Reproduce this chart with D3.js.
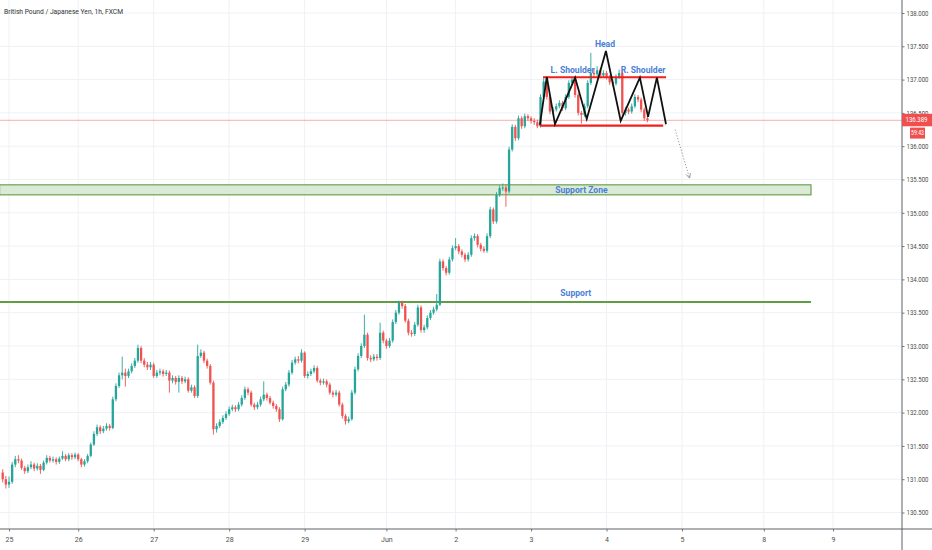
<!DOCTYPE html>
<html><head><meta charset="utf-8">
<script src="https://cdn.jsdelivr.net/npm/d3@7/dist/d3.min.js"></script>
<style>
html,body{margin:0;padding:0;background:#fff;overflow:hidden;}
svg{display:block;}
</style></head><body>
<svg id="chart" width="932" height="550"></svg>
<script>
// ---------- data ----------
const title = "British Pound / Japanese Yen, 1h, FXCM";
const dayLabels = ["25","26","27","28","29","Jun","2","3","4","5","8","9"];
const daySlots  = [0,22,46,70,94,120,142,166,190,214,240,262];
const priceTicks = [130.5,131,131.5,132,132.5,133,133.5,134,134.5,135,135.5,136,136.5,137,137.5,138];
const firstSlot = -2;
const opens = [
131.10,131.00,130.92,130.96,131.22,131.30,131.28,131.17,131.12,131.18,
131.22,131.16,131.20,131.14,131.25,131.32,131.28,131.30,131.26,131.31,
131.35,131.30,131.36,131.33,131.37,131.30,131.22,131.27,131.35,131.52,
131.68,131.78,131.72,131.76,131.80,131.77,132.20,132.40,132.56,132.60,
132.55,132.62,132.70,132.78,132.97,132.78,132.72,132.68,132.72,132.55,
132.60,132.62,132.58,132.60,132.48,132.52,132.46,132.52,132.47,132.50,
132.33,132.38,132.25,132.85,132.90,132.78,132.70,132.45,131.75,131.80,
131.86,131.92,131.98,132.05,132.08,132.05,132.12,132.22,132.35,132.30,
132.12,132.08,132.12,132.20,132.27,132.22,132.15,132.10,132.05,131.90,
132.35,132.42,132.60,132.75,132.80,132.78,132.90,132.55,132.58,132.62,
132.67,132.48,132.45,132.47,132.42,132.30,132.27,132.30,132.12,131.95,
131.87,131.90,132.30,132.65,132.85,133.00,133.17,132.82,132.80,132.84,
132.82,133.20,133.08,133.00,133.08,133.36,133.50,133.65,133.60,133.38,
133.20,133.18,133.32,133.58,133.24,133.28,133.42,133.50,133.55,133.62,
134.27,134.17,134.10,134.30,134.47,134.50,134.42,134.37,134.30,134.37,
134.62,134.65,134.52,134.46,134.43,134.65,135.05,134.87,135.27,135.37,
135.38,135.32,135.95,136.29,136.12,136.42,136.30,136.45,136.42,136.38,
136.36,136.30,136.74,136.97,136.74,136.52,136.55,136.60,136.65,136.57,
136.74,136.95,137.00,136.77,136.50,136.47,136.60,136.95,137.10,137.08,
137.14,137.06,137.10,137.04,136.96,136.94,137.04,137.10,136.50,136.55,
136.52,136.60,136.74,136.70,136.55,136.42];
const highs = [
131.15,131.05,131.04,131.26,131.35,131.36,131.31,131.20,131.22,131.27,
131.25,131.24,131.23,131.28,131.36,131.35,131.34,131.33,131.34,131.42,
131.38,131.39,131.39,131.40,131.39,131.32,131.30,131.38,131.55,131.72,
131.82,131.81,131.80,131.84,131.83,132.24,132.44,132.60,132.84,132.66,
132.66,132.74,132.82,133.02,133.00,132.82,132.76,132.76,132.75,132.64,
132.66,132.65,132.64,132.63,132.56,132.55,132.56,132.55,132.54,132.53,
132.42,132.41,133.02,132.95,132.93,132.81,132.73,132.48,131.84,131.90,
131.96,132.02,132.09,132.12,132.11,132.16,132.26,132.39,132.38,132.33,
132.15,132.16,132.24,132.47,132.30,132.25,132.18,132.13,132.08,132.39,
132.46,132.64,132.79,132.84,132.85,132.95,132.92,132.62,132.66,132.71,
132.70,132.51,132.51,132.50,132.45,132.33,132.34,132.33,132.15,131.98,
131.94,132.34,132.69,132.89,133.04,133.47,133.20,132.86,132.88,132.88,
133.35,133.23,133.11,133.12,133.40,133.54,133.68,133.68,133.63,133.41,
133.24,133.36,133.62,133.61,133.32,133.46,133.54,133.59,133.78,134.31,
134.30,134.20,134.34,134.51,134.62,134.53,134.45,134.40,134.41,134.66,
134.69,134.68,134.55,134.50,134.69,135.09,135.08,135.31,135.41,135.44,
135.42,135.99,136.33,136.32,136.46,136.45,136.49,136.48,136.45,136.42,
136.40,136.78,137.02,137.00,136.77,136.59,136.64,136.69,136.68,136.78,
136.99,137.04,137.03,136.80,136.53,136.64,136.99,137.40,137.16,137.20,
137.17,137.14,137.13,137.07,137.00,137.08,137.15,137.13,136.59,136.58,
136.64,136.78,136.77,136.73,136.58,136.46];
const lows = [
130.95,130.86,130.87,130.93,131.18,131.24,131.14,131.08,131.09,131.15,
131.12,131.13,131.08,131.12,131.22,131.25,131.25,131.22,131.23,131.29,
131.27,131.27,131.29,131.30,131.27,131.18,131.19,131.24,131.33,131.50,
131.65,131.68,131.69,131.73,131.73,131.75,132.17,132.37,132.50,132.39,
132.52,132.59,132.67,132.75,132.74,132.68,132.64,132.64,132.52,132.52,
132.56,132.54,132.55,132.30,132.44,132.42,132.30,132.43,132.44,132.30,
132.30,132.22,132.22,132.82,132.74,132.66,132.42,131.67,131.70,131.77,
131.83,131.89,131.95,132.02,132.01,132.02,132.09,132.19,132.26,132.09,
132.04,132.05,132.09,132.17,132.18,132.12,132.06,132.01,131.86,131.88,
132.32,132.39,132.57,132.72,132.74,132.75,132.52,132.51,132.55,132.59,
132.45,132.41,132.42,132.38,132.27,132.23,132.24,132.09,131.91,131.82,
131.84,131.88,132.27,132.62,132.82,132.97,132.78,132.76,132.77,132.78,
132.79,133.04,132.96,132.97,133.05,133.33,133.47,133.56,133.35,133.16,
133.14,133.15,133.29,133.20,133.20,133.25,133.39,133.47,133.52,133.60,
134.13,134.06,134.07,134.27,134.44,134.38,134.33,134.26,134.27,134.34,
134.58,134.48,134.42,134.40,134.40,134.62,134.83,134.84,135.24,135.33,
135.09,135.29,135.92,136.08,136.09,136.26,136.27,136.38,136.34,136.32,
136.27,136.28,136.71,136.70,136.48,136.48,136.52,136.57,136.53,136.54,
136.71,136.92,136.73,136.46,136.34,136.44,136.57,136.92,137.04,137.05,
137.02,137.03,137.00,136.92,136.90,136.91,137.01,136.46,136.46,136.48,
136.49,136.57,136.66,136.51,136.38,136.36];
const closes = [
131.00,130.92,130.96,131.22,131.30,131.28,131.17,131.12,131.18,131.22,
131.16,131.20,131.14,131.25,131.32,131.28,131.30,131.26,131.31,131.35,
131.30,131.36,131.33,131.37,131.30,131.22,131.27,131.35,131.52,131.68,
131.78,131.72,131.76,131.80,131.77,132.20,132.40,132.56,132.60,132.55,
132.62,132.70,132.78,132.97,132.78,132.72,132.68,132.72,132.55,132.60,
132.62,132.58,132.60,132.48,132.52,132.46,132.52,132.47,132.50,132.33,
132.38,132.25,132.85,132.90,132.78,132.70,132.45,131.75,131.80,131.86,
131.92,131.98,132.05,132.08,132.05,132.12,132.22,132.35,132.30,132.12,
132.08,132.12,132.20,132.27,132.22,132.15,132.10,132.05,131.90,132.35,
132.42,132.60,132.75,132.80,132.78,132.90,132.55,132.58,132.62,132.67,
132.48,132.45,132.47,132.42,132.30,132.27,132.30,132.12,131.95,131.87,
131.90,132.30,132.65,132.85,133.00,133.17,132.82,132.80,132.84,132.82,
133.20,133.08,133.00,133.08,133.36,133.50,133.65,133.60,133.38,133.20,
133.18,133.32,133.58,133.24,133.28,133.42,133.50,133.55,133.62,134.27,
134.17,134.10,134.30,134.47,134.50,134.42,134.37,134.30,134.37,134.62,
134.65,134.52,134.46,134.43,134.65,135.05,134.87,135.27,135.37,135.38,
135.32,135.95,136.29,136.12,136.42,136.30,136.45,136.42,136.38,136.36,
136.30,136.74,136.97,136.74,136.52,136.55,136.60,136.65,136.57,136.74,
136.95,137.00,136.77,136.50,136.47,136.60,136.95,137.10,137.08,137.14,
137.06,137.10,137.04,136.96,136.94,137.04,137.10,136.50,136.55,136.52,
136.60,136.74,136.70,136.55,136.42,136.389];
const lastPrice = 136.389;
const countdown = "59:43";

// drawings (in slot / price units)
const patternSlots  = [168.8,171.0,173.6,180.0,183.7,189.8,194.5,200.6,203.2,206.0,208.9];
const patternPrices = [136.32,137.04,136.33,137.03,136.41,137.43,136.38,137.03,136.44,137.03,136.33];
const neckTopSlots = [169.8,208.9], neckTopPrice = 137.035;
const neckBotSlots = [168.8,208.0], neckBotPrice = 136.31;
const zoneSlots = [-3,255], zonePrices = [135.27,135.42];
const supportSlots = [-3,255], supportPrice = 133.66;
const arrowSlots = [211.8,216.4], arrowPrices = [136.25,135.52];
const noteTexts  = ["Head","L. Shoulder","R. Shoulder","Support Zone","Support"];
const noteSlots  = [189.5,179.2,201.6,182.0,180.2];
const notePrices = [137.53,137.15,137.15,135.345,133.80];

// ---------- drawing ----------
const W = 932, H = 550, axisX = 902, axisY = 529;
const svg = d3.select("#chart");
const x = d3.scaleLinear().domain([daySlots[0], daySlots[daySlots.length-1]]).range([9, 833]);
const y = d3.scaleLinear().domain([130.5, 138]).range([512.5, 13]);
const step = x(1) - x(0);

svg.append("defs").append("clipPath").attr("id","plot")
  .append("rect").attr("x",0).attr("y",0).attr("width",axisX).attr("height",axisY);

// grid
const grid = svg.append("g");
grid.selectAll("line.h").data(priceTicks).join("line")
  .attr("x1",0).attr("x2",axisX).attr("y1",d=>y(d)).attr("y2",d=>y(d))
  .attr("stroke","#eef1f5").attr("stroke-width",1);
grid.selectAll("line.v").data(daySlots).join("line")
  .attr("x1",d=>x(d)).attr("x2",d=>x(d)).attr("y1",0).attr("y2",axisY)
  .attr("stroke","#eef1f5").attr("stroke-width",1);

const plot = svg.append("g").attr("clip-path","url(#plot)");

// support zone & line
plot.append("rect")
  .attr("x",x(zoneSlots[0])).attr("width",x(zoneSlots[1])-x(zoneSlots[0]))
  .attr("y",y(zonePrices[1])).attr("height",y(zonePrices[0])-y(zonePrices[1]))
  .attr("fill","#d6e8d2").attr("fill-opacity",0.9).attr("stroke","#6aa24d").attr("stroke-width",1.2);
plot.append("line")
  .attr("x1",x(supportSlots[0])).attr("x2",x(supportSlots[1]))
  .attr("y1",y(supportPrice)).attr("y2",y(supportPrice))
  .attr("stroke","#5f9e45").attr("stroke-width",2);

// last price line
plot.append("line").attr("x1",0).attr("x2",axisX)
  .attr("y1",y(lastPrice)).attr("y2",y(lastPrice))
  .attr("stroke","#f28b8a").attr("stroke-opacity",0.7).attr("stroke-width",1);

// candles
const candles = closes.map((c,i)=>({s:firstSlot+i,o:opens[i],h:highs[i],l:lows[i],c:c}));
const up = "#26a69a", dn = "#ef5350";
const cg = plot.append("g");
cg.selectAll("line").data(candles).join("line")
  .attr("x1",d=>x(d.s)).attr("x2",d=>x(d.s))
  .attr("y1",d=>y(d.h)).attr("y2",d=>y(d.l))
  .attr("stroke",d=>d.c>=d.o?up:dn).attr("stroke-width",0.9);
cg.selectAll("rect").data(candles).join("rect")
  .attr("x",d=>x(d.s)-1.15).attr("width",2.3)
  .attr("y",d=>y(Math.max(d.o,d.c)))
  .attr("height",d=>Math.max(1,Math.abs(y(d.o)-y(d.c))))
  .attr("fill",d=>d.c>=d.o?up:dn);

// neckline rectangle (red)
plot.append("line").attr("x1",x(neckTopSlots[0])).attr("x2",x(neckTopSlots[1]))
  .attr("y1",y(neckTopPrice)).attr("y2",y(neckTopPrice))
  .attr("stroke","#f0201d").attr("stroke-width",2.2);
plot.append("line").attr("x1",x(neckBotSlots[0])).attr("x2",x(neckBotSlots[1]))
  .attr("y1",y(neckBotPrice)).attr("y2",y(neckBotPrice))
  .attr("stroke","#f0201d").attr("stroke-width",2.2);

// head & shoulders zig-zag (black)
const zig = patternSlots.map((s,i)=>[x(s),y(patternPrices[i])]);
plot.append("path").attr("d",d3.line()(zig))
  .attr("fill","none").attr("stroke","#111").attr("stroke-width",1.8).attr("stroke-linejoin","miter");

// dotted arrow
const a0=[x(arrowSlots[0]),y(arrowPrices[0])], a1=[x(arrowSlots[1]),y(arrowPrices[1])];
plot.append("line").attr("x1",a0[0]).attr("y1",a0[1]).attr("x2",a1[0]).attr("y2",a1[1])
  .attr("stroke","#8a8a8a").attr("stroke-width",0.9).attr("stroke-dasharray","1.2,1.8");
const ang = Math.atan2(a1[1]-a0[1], a1[0]-a0[0]);
const hl = 5;
[ang+Math.PI-0.45, ang+Math.PI+0.45].forEach(t=>{
  plot.append("line").attr("x1",a1[0]).attr("y1",a1[1])
    .attr("x2",a1[0]+hl*Math.cos(t)).attr("y2",a1[1]+hl*Math.sin(t))
    .attr("stroke","#8a8a8a").attr("stroke-width",0.9);
});

// annotations
svg.append("g").selectAll("text").data(noteTexts).join("text")
  .attr("x",(d,i)=>x(noteSlots[i])).attr("y",(d,i)=>y(notePrices[i]))
  .attr("text-anchor","middle").attr("dominant-baseline","central")
  .attr("font-family","Roboto, 'Open Sans', sans-serif").attr("font-size",8.6).attr("font-weight",700)
  .attr("fill","#4a80d9").text(d=>d);

// axes lines
svg.append("line").attr("x1",axisX).attr("x2",axisX).attr("y1",0).attr("y2",H)
  .attr("stroke","#5d6066").attr("stroke-width",1);
svg.append("line").attr("x1",0).attr("x2",W).attr("y1",axisY).attr("y2",axisY)
  .attr("stroke","#5d6066").attr("stroke-width",1);

// right price axis
const ya = svg.append("g").attr("transform",`translate(${axisX},0)`)
  .call(d3.axisRight(y).tickValues(priceTicks).tickFormat(d3.format(".3f")).tickSize(2.5).tickPadding(2));
ya.select(".domain").remove();
ya.selectAll(".tick line").attr("stroke","#777");
ya.selectAll(".tick text").attr("fill","#4c4c4c").attr("font-family","'Liberation Sans Narrow', Roboto, sans-serif")
  .attr("font-size",7).attr("textLength",22).attr("lengthAdjust","spacingAndGlyphs");

// bottom time axis
const xa = svg.append("g").attr("transform",`translate(0,${axisY})`)
  .call(d3.axisBottom(x).tickValues(daySlots).tickFormat((d,i)=>dayLabels[i]).tickSize(2.5).tickPadding(6));
xa.select(".domain").remove();
xa.selectAll(".tick line").attr("stroke","#777");
xa.selectAll(".tick text").attr("fill","#4c4c4c").attr("font-family","'Liberation Sans Narrow', Roboto, sans-serif")
  .attr("font-size",7);

// last price tag
const ly = y(lastPrice);
svg.append("rect").attr("x",axisX).attr("y",ly-6.5).attr("width",W-axisX).attr("height",12.5).attr("fill","#ef4f4f");
svg.append("text").attr("x",axisX+3.5).attr("y",ly).attr("dominant-baseline","central")
  .attr("fill","#fff").attr("font-family","'Liberation Sans Narrow', Roboto, sans-serif").attr("font-size",7)
  .attr("textLength",22).attr("lengthAdjust","spacingAndGlyphs").text(d3.format(".3f")(lastPrice));
svg.append("rect").attr("x",910).attr("y",ly+7.3).attr("width",15).attr("height",11).attr("fill","#ef4f4f");
svg.append("text").attr("x",917.5).attr("y",ly+12.8).attr("text-anchor","middle").attr("dominant-baseline","central")
  .attr("fill","#fff").attr("font-family","'Liberation Sans Narrow', Roboto, sans-serif").attr("font-size",7)
  .attr("textLength",13).attr("lengthAdjust","spacingAndGlyphs").text(countdown);

// title
svg.append("text").attr("x",4).attr("y",14).attr("fill","#333")
  .attr("font-family","Roboto, 'Open Sans', sans-serif").attr("font-size",8)
  .attr("textLength",119).attr("lengthAdjust","spacingAndGlyphs").text(title);
</script>
</body></html>
